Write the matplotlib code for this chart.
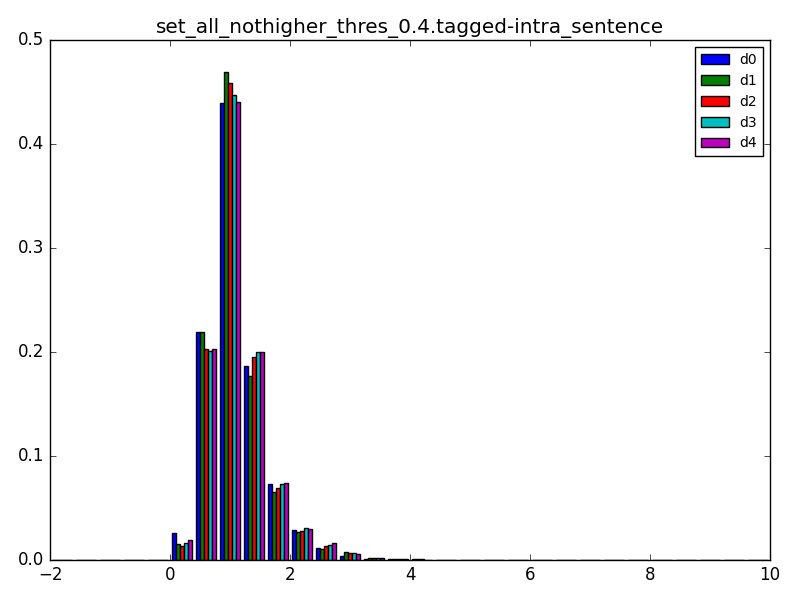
import numpy as np
import matplotlib
matplotlib.use("Agg")
import matplotlib.pyplot as plt

plt.style.use("classic")

# bin edges from -2 to 10, width 0.4 (30 bins)
edges = np.linspace(-2, 10, 31)
labels = ["d0", "d1", "d2", "d3", "d4"]
colors = ["b", "g", "r", "c", "m"]

zeros = [0.0] * 5
tail = [0.0] * 15
d0 = zeros + [0.026, 0.219, 0.440, 0.187, 0.073, 0.029, 0.012, 0.004, 0.001, 0.0005, 0.0005, 0.0003, 0.0, 0.0] + tail[:-3] + [0.0, 0.0, 0.0, 0.0]
d1 = zeros + [0.0155, 0.219, 0.469, 0.177, 0.065, 0.027, 0.011, 0.008, 0.002, 0.0005, 0.0005, 0.0003, 0.0003, 0.0] + tail[:-3] + [0.0, 0.0, 0.0, 0.0]
d2 = zeros + [0.0135, 0.203, 0.459, 0.195, 0.069, 0.028, 0.013, 0.007, 0.002, 0.0005, 0.0005, 0.0003, 0.0, 0.0] + tail[:-3] + [0.0, 0.0, 0.0, 0.0]
d3 = zeros + [0.016, 0.201, 0.447, 0.200, 0.073, 0.031, 0.014, 0.007, 0.002, 0.0005, 0.0003, 0.0, 0.0, 0.0] + tail[:-3] + [0.0, 0.0, 0.0, 0.0]
d4 = zeros + [0.019, 0.203, 0.441, 0.200, 0.074, 0.030, 0.016, 0.006, 0.002, 0.0005, 0.0003, 0.0, 0.0, 0.0] + tail[:-3] + [0.0, 0.0, 0.0, 0.0]
series = [d0, d1, d2, d3, d4]

fig, ax = plt.subplots(figsize=(8, 6), dpi=100)
binw = edges[1] - edges[0]
w = binw * 0.8 / len(series)
for i, (vals, lab, c) in enumerate(zip(series, labels, colors)):
    vals = np.array(vals[:30])
    x = edges[:-1] + binw * 0.1 + i * w
    ax.bar(x, vals, width=w, align="edge", color=c, label=lab, edgecolor="k")

ax.set_xlim(-2, 10)
ax.set_ylim(0, 0.5)
ax.set_title("set_all_nothigher_thres_0.4.tagged-intra_sentence")
ax.legend(loc="upper right", fontsize=10)
fig.subplots_adjust(left=0.0625, right=0.9625, bottom=0.0667, top=0.933)
fig.savefig("out.png")
